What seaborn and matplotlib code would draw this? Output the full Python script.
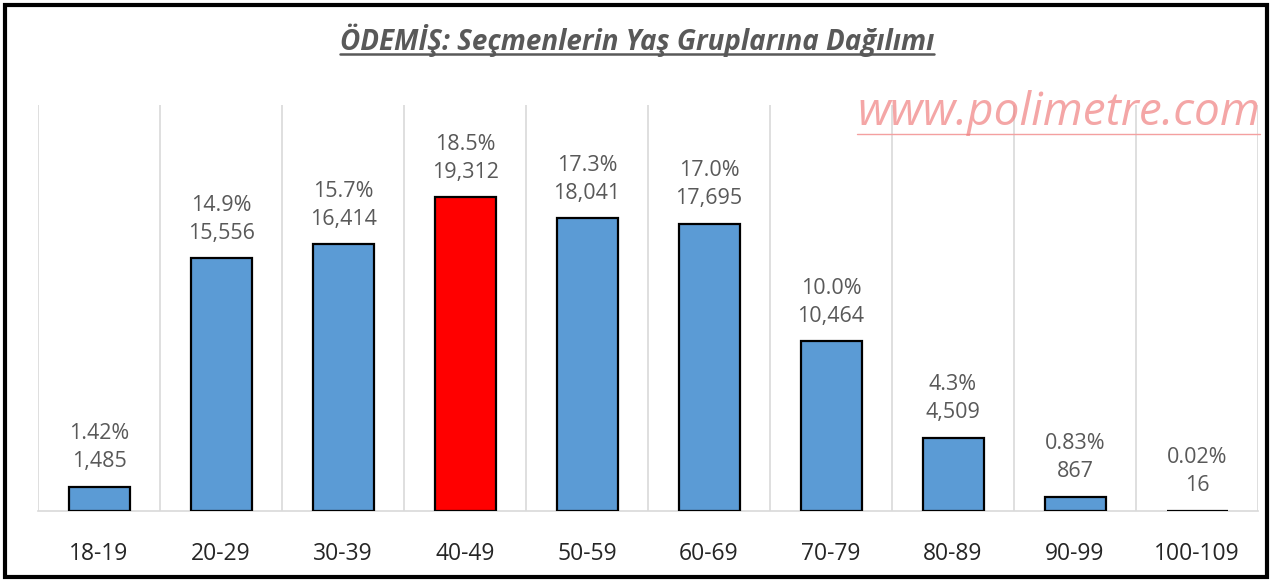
import numpy as np
import pandas as pd
import seaborn as sns
import matplotlib.pyplot as plt
from matplotlib.patches import Rectangle
from matplotlib.lines import Line2D

age_groups = ["18-19", "20-29", "30-39", "40-49", "50-59", "60-69", "70-79", "80-89", "90-99", "100-109"]
voters = [1485, 15556, 16414, 19312, 18041, 17695, 10464, 4509, 867, 16]
pct_labels = ["1.42%", "14.9%", "15.7%", "18.5%", "17.3%", "17.0%", "10.0%", "4.3%", "0.83%", "0.02%"]
highlight = "40-49"

df = pd.DataFrame({"group": age_groups, "voters": voters})
colors = ["#FF0000" if g == highlight else "#5B9BD5" for g in age_groups]

sns.set_style("white")
plt.rcParams["font.family"] = ["Open Sans", "DejaVu Sans"]

fig = plt.figure(figsize=(12.74, 5.82), dpi=100)
ax = fig.add_axes([38 / 1274, 71 / 582, 1220 / 1274, 406 / 582])

sns.barplot(data=df, x="group", y="voters", hue="group", palette=colors, legend=False,
            width=0.5, edgecolor="black", linewidth=1.6, saturation=1, ax=ax)
for bar in ax.patches:
    bar.set_zorder(3)

ax.set_xlim(-0.5, len(age_groups) - 0.5)
ax.set_ylim(0, 25000)
ax.set_xticks(np.arange(-0.5, len(age_groups), 1.0), minor=True)
ax.set_axisbelow(True)
ax.grid(True, which="minor", axis="x", color="#D9D9D9", linewidth=1.2)
ax.grid(False, which="major")
ax.set_yticks([])
ax.set_xlabel("")
ax.set_ylabel("")
ax.tick_params(axis="x", which="both", length=0, pad=22, labelsize=16.5, labelcolor="#262626")
for s in ["left", "top", "right"]:
    ax.spines[s].set_visible(False)
ax.spines["bottom"].set_color("#D9D9D9")
ax.spines["bottom"].set_linewidth(1.2)
ax.spines["bottom"].set_zorder(1)

# two-line labels: percentage above count
for i, (v, p) in enumerate(zip(voters, pct_labels)):
    ax.annotate(f"{v:,}", (i, v), xytext=(0, 25), textcoords="offset pixels",
                ha="center", va="center", fontsize=15.5, color="#595959")
    ax.annotate(p, (i, v), xytext=(0, 53), textcoords="offset pixels",
                ha="center", va="center", fontsize=15.5, color="#595959")

# title with underline
title = fig.text(0.5, 1 - 40 / 582, "ÖDEMİŞ: Seçmenlerin Yaş Gruplarına Dağılımı",
                 ha="center", va="center", fontsize=20, fontstyle="italic",
                 fontweight="bold", color="#595959")
wm = fig.text(1260 / 1274, 1 - 113 / 582, "www.polimetre.com", ha="right", va="center",
              fontsize=33, fontstyle="italic", color="#F08080", alpha=0.7)

fig.canvas.draw()
r = fig.canvas.get_renderer()
for t, c, lw in [(title, "#595959", 1.8), (wm, "#F4A0A0", 1.0)]:
    bb = t.get_window_extent(r).transformed(fig.transFigure.inverted())
    fig.add_artist(Line2D([bb.x0, bb.x1], [bb.y0 + 0.004, bb.y0 + 0.004],
                          color=c, linewidth=lw, transform=fig.transFigure))

# frame round the figure
fig.add_artist(Rectangle((5 / 1274, 5 / 582), 1262 / 1274, 572 / 582, fill=False,
                         edgecolor="black", linewidth=3, transform=fig.transFigure))

fig.savefig("out.png", dpi=100, facecolor="white")
